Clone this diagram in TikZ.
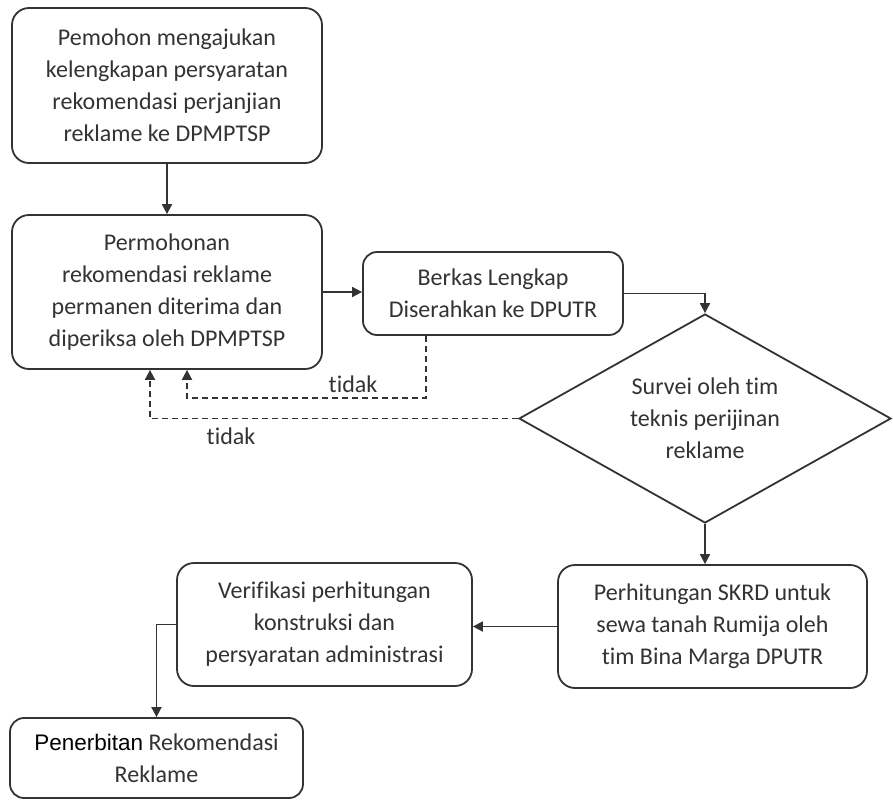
\documentclass[tikz,border=0pt]{standalone}
\usepackage{fontspec}
\setmainfont{Carlito}[Ligatures=NoCommon]
\newfontfamily\arialfont{Liberation Sans}
\usetikzlibrary{shapes.geometric,arrows.meta}
\definecolor{ln}{HTML}{333333}
\definecolor{tx}{HTML}{333333}
\begin{document}
\begin{tikzpicture}[x=1pt,y=-1pt,
  box/.style={draw=ln,line width=1.8pt,rounded corners=17pt,align=center,
    inner sep=0pt,text=tx,font=\fontsize{24}{32}\selectfont},
  dec/.style={draw=ln,line width=1.8pt,shape=diamond,aspect=1.78,inner sep=0pt,
    align=center,text=tx,font=\fontsize{24}{32}\selectfont},
  conn/.style={draw=ln,line width=1.8pt,-{Triangle[length=10pt,width=10pt]}},
  dconn/.style={conn,dash pattern=on 6pt off 4pt},
  lbl/.style={text=tx,font=\fontsize{24}{28}\selectfont,inner sep=0pt}]
\useasboundingbox (0,0) rectangle (893,801);
\fill[white] (0,0) rectangle (893,801);

\node[box,minimum width=310pt,minimum height=155pt] (b1) at (167,85.5)
  {Pemohon mengajukan\\kelengkapan persyaratan\\rekomendasi perjanjian\\reklame ke DPMPTSP};
\node[box,minimum width=310pt,minimum height=154pt] (b2) at (167,292)
  {Permohonan\\rekomendasi reklame\\permanen diterima dan\\diperiksa oleh DPMPTSP};
\node[box,minimum width=260pt,minimum height=83pt,rounded corners=14pt] (b3) at (493,293.5)
  {Berkas Lengkap\\Diserahkan ke DPUTR};
\node[dec,minimum width=372pt,minimum height=209pt] (dia) at (705,418.5)
  {\rule{0pt}{14pt}Survei oleh tim\\teknis perijinan\\reklame};
\node[box,minimum width=309pt,minimum height=123pt] (perh) at (712.5,626.5)
  {Perhitungan SKRD untuk\\sewa tanah Rumija oleh\\tim Bina Marga DPUTR};
\node[box,minimum width=295pt,minimum height=123pt] (ver) at (324.5,624.5)
  {Verifikasi perhitungan\\konstruksi dan\\persyaratan administrasi};
\node[box,minimum width=293pt,minimum height=80pt,rounded corners=14pt] (pen) at (156.5,758)
  {{\arialfont\fontsize{22.5}{32}\selectfont\color{black}Penerbitan} Rekomendasi\\Reklame};

\draw[conn] (b1.south) -- (b2.north);
\draw[conn] (b2.east) -- (b2.east -| b3.west);
\draw[conn] (b3.east) -| (dia.north);
\draw[conn] (dia.south) -- (dia.south |- perh.north);
\draw[conn] (perh.west) -- (perh.west -| ver.east);
\draw[conn] (ver.west) -| (pen.north);

\draw[dconn] ([xshift=-67pt]b3.south) -- ++(0,62) -| ([xshift=20pt]b2.south);
\draw[dconn] (dia.west) -| ([xshift=-17pt]b2.south);

\node[lbl] (t1) at (353,384) {tidak};
\node[lbl] (t2) at (231,436) {tidak};
\end{tikzpicture}
\end{document}
